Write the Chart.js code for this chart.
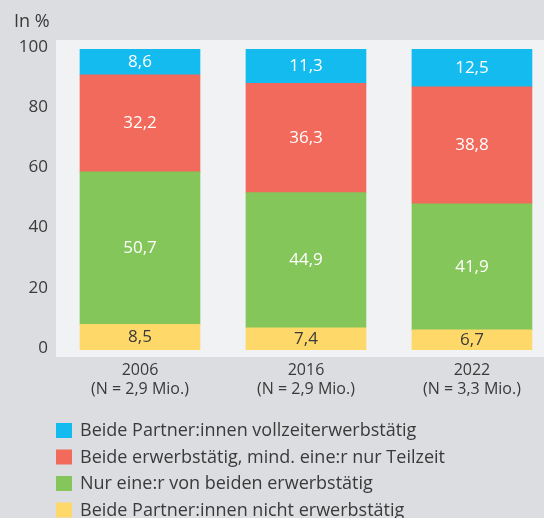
<!DOCTYPE html>
<html>
<head>
<meta charset="utf-8">
<script src="https://cdn.jsdelivr.net/npm/chart.js@4"></script>
<style>
html,body{margin:0;padding:0;background:#dcdde0;overflow:hidden;}
#wrap{width:544px;height:518px;position:relative;}
</style>
</head>
<body>
<div id="wrap"><canvas id="c" width="544" height="518"></canvas></div>
<script>
const years = ['2006', '2016', '2022'];
const samples = ['(N = 2,9 Mio.)', '(N = 2,9 Mio.)', '(N = 3,3 Mio.)'];
const seriesNames = [
  'Beide Partner:innen nicht erwerbstätig',
  'Nur eine:r von beiden erwerbstätig',
  'Beide erwerbstätig, mind. eine:r nur Teilzeit',
  'Beide Partner:innen vollzeiterwerbstätig'
];
const nichtErwerbstaetig = [8.5, 7.4, 6.7];
const nurEiner = [50.7, 44.9, 41.9];
const teilzeit = [32.2, 36.3, 38.8];
const vollzeit = [8.6, 11.3, 12.5];
const yTicks = [0, 20, 40, 60, 80, 100];

const colors = ['#fed96a', '#85c65b', '#f26a5b', '#13bbef'];
const labelColors = ['#3a3a3a', '#ffffff', '#ffffff', '#ffffff'];
const seriesValues = [nichtErwerbstaetig, nurEiner, teilzeit, vollzeit];

const FONT = "'Open Sans', sans-serif";
const TEXT = '#3a3a3a';

const datasets = seriesValues.map((vals, s) => ({
  label: seriesNames[s],
  data: vals.map((v, i) => ({x: i, y: v})),
  backgroundColor: colors[s],
  borderWidth: 0,
  barThickness: 120
}));

const decorPlugin = {
  id: 'decor',
  beforeDraw(chart) {
    const ctx = chart.ctx;
    const a = chart.chartArea;
    ctx.save();
    ctx.fillStyle = '#dcdde0';
    ctx.fillRect(0, 0, chart.width, chart.height);
    ctx.fillStyle = '#f1f2f4';
    ctx.fillRect(a.left - 1, a.top - 9, chart.width - a.left + 1, a.bottom - a.top + 16);
    ctx.restore();
  },
  afterDraw(chart) {
    const ctx = chart.ctx;
    ctx.save();
    // value labels
    ctx.font = "17px " + FONT;
    ctx.textAlign = 'center';
    ctx.textBaseline = 'middle';
    chart.data.datasets.forEach((ds, s) => {
      const meta = chart.getDatasetMeta(s);
      meta.data.forEach((bar, i) => {
        const v = ds.data[i].y;
        ctx.fillStyle = labelColors[s];
        ctx.fillText(v.toFixed(1).replace('.', ','), bar.x, (bar.y + bar.base) / 2);
      });
    });
    // axis unit
    ctx.fillStyle = TEXT;
    ctx.font = "18px " + FONT;
    ctx.textAlign = 'left';
    ctx.fillText('In %', 14, 22);
    // legend
    const order = [3, 2, 1, 0];
    order.forEach((s, r) => {
      const cy = 430 + r * 26.5;
      ctx.fillStyle = colors[s];
      ctx.fillRect(56, cy - 7, 16, 15);
      ctx.fillStyle = TEXT;
      ctx.font = "18px " + FONT;
      ctx.textAlign = 'left';
      ctx.textBaseline = 'middle';
      ctx.fillText(seriesNames[s], 80, cy + 1);
    });
    ctx.restore();
  }
};

new Chart(document.getElementById('c'), {
  type: 'bar',
  data: { datasets },
  options: {
    responsive: false,
    animation: false,
    layout: { padding: { top: 49, left: 0, right: 0, bottom: 108 } },
    plugins: { legend: { display: false }, tooltip: { enabled: false } },
    scales: {
      x: {
        type: 'linear',
        stacked: true,
        min: -0.5,
        max: 2.434,
        offset: false,
        grid: { display: false, drawTicks: false },
        border: { display: false },
        afterBuildTicks: (scale) => { scale.ticks = years.map((_, i) => ({ value: i })); },
        afterFit: (scale) => { scale.height = 60; },
        ticks: {
          autoSkip: false,
          maxRotation: 0,
          padding: 11,
          color: TEXT,
          font: { family: FONT, size: 16, lineHeight: 1.2 },
          callback: (v) => [years[v], samples[v]]
        }
      },
      y: {
        stacked: true,
        min: 0,
        max: 100,
        grid: { display: false, drawTicks: false },
        border: { display: false },
        afterBuildTicks: (scale) => { scale.ticks = yTicks.map(v => ({ value: v })); },
        afterFit: (scale) => { scale.width = 57; },
        ticks: {
          padding: 9,
          labelOffset: -2,
          color: TEXT,
          font: { family: FONT, size: 17 }
        }
      }
    }
  },
  plugins: [decorPlugin]
});
</script>
</body>
</html>
